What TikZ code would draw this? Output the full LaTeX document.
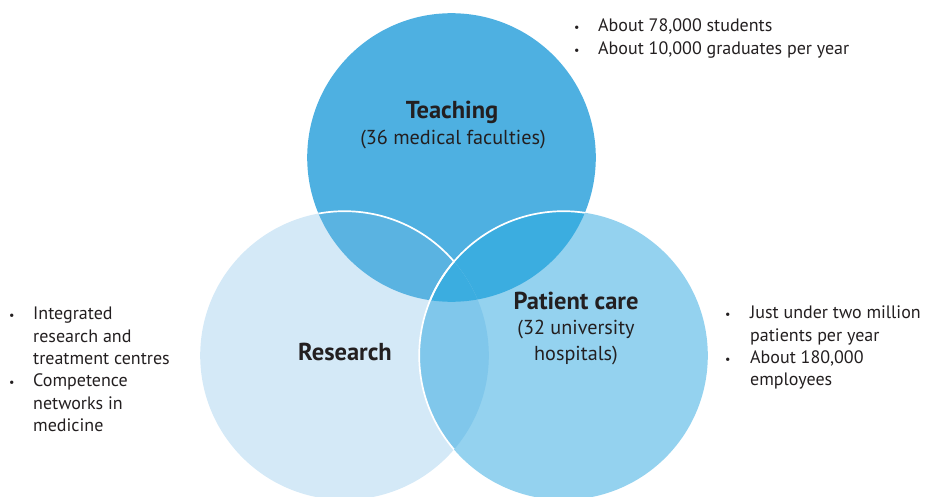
\documentclass[tikz,border=0pt]{standalone}
\usepackage{fontspec}
\setmainfont{PT Sans}

\definecolor{inkgray}{HTML}{231F20}
\definecolor{teachblue}{HTML}{4EB0E1}
\definecolor{researchblue}{HTML}{D4E9F7}
\definecolor{careblue}{HTML}{94D2EF}
\definecolor{teachresearch}{HTML}{5AB3E1}
\definecolor{teachcare}{HTML}{3BADE0}
\definecolor{researchcare}{HTML}{80C7EB}

\newcommand{\rad}{144.3pt}
\newcommand{\bul}{{\fontsize{12}{12}\selectfont\textbullet}}

\tikzstyle{ring} = [draw=white, line width=1.7pt]
\tikzstyle{headtext} = [text=inkgray, inner sep=0pt, anchor=base,
    font=\fontsize{24.5}{26}\selectfont\bfseries]
\tikzstyle{subtext} = [text=inkgray, inner sep=0pt, anchor=base, align=center,
    font=\fontsize{20.2}{25.5}\selectfont]
\tikzstyle{bulletlist} = [text=inkgray, inner sep=0pt, anchor=north west,
    font=\fontsize{18}{22.3}\selectfont]

\begin{document}
\begin{tikzpicture}[x=1pt, y=-1pt]
\useasboundingbox (0,0) rectangle (926,497);
\coordinate (T) at (451.5,157.5);
\coordinate (R) at (344.5,355.5);
\coordinate (P) at (563.5,355.5);
%------------ Kreise ---------------------
\fill[teachblue] (T) circle (\rad);
\fill[researchblue] (R) circle (\rad);
\fill[careblue] (P) circle (\rad);
%------------ Schnittflaechen ---------------------
\begin{scope}
    \clip (T) circle (\rad);
    \fill[teachresearch] (R) circle (\rad);
    \draw[ring] (R) circle (\rad);
    \fill[teachcare] (P) circle (\rad);
\end{scope}
\begin{scope}
    \clip (R) circle (\rad);
    \fill[researchcare] (P) circle (\rad);
    \clip (T) circle (\rad);
    \fill[teachcare] (P) circle (\rad);
\end{scope}
\begin{scope}
    \clip (T) circle (\rad);
    \draw[ring] (P) circle (\rad);
\end{scope}
\begin{scope}
    \clip (R) circle (\rad);
    \draw[ring] (P) circle (\rad);
\end{scope}
%------------ Beschriftung ---------------------
\node[headtext] (teach) at (452,119) {Teaching};
\node[subtext] (teachsub) at (453,145) {(36 medical faculties)};
\node[headtext] (research) at (345,360) {Research};
\node[headtext] (care) at (576,309) {Patient care};
\node[subtext] (caresub) at (576,360) {(32 university\\hospitals)};
%------------ Aufzaehlungen ---------------------
\node[bulletlist] (teachlist) at (574,16) {%
    \begin{tabular}{@{}p{24pt}@{}l@{}}
    \bul & About 78,000 students\\
    \bul & About 10,000 graduates per year
    \end{tabular}};
\node[bulletlist] (researchlist) at (9,304) {%
    \begin{tabular}{@{}p{24pt}@{}l@{}}
    \bul & Integrated\\
         & research and\\
         & treatment centres\\
    \bul & Competence\\
         & networks in\\
         & medicine
    \end{tabular}};
\node[bulletlist] (carelist) at (725,303) {%
    \begin{tabular}{@{}p{25pt}@{}l@{}}
    \bul & Just under two million\\
         & patients per year\\
    \bul & About 180,000\\
         & employees
    \end{tabular}};
\end{tikzpicture}
\end{document}
